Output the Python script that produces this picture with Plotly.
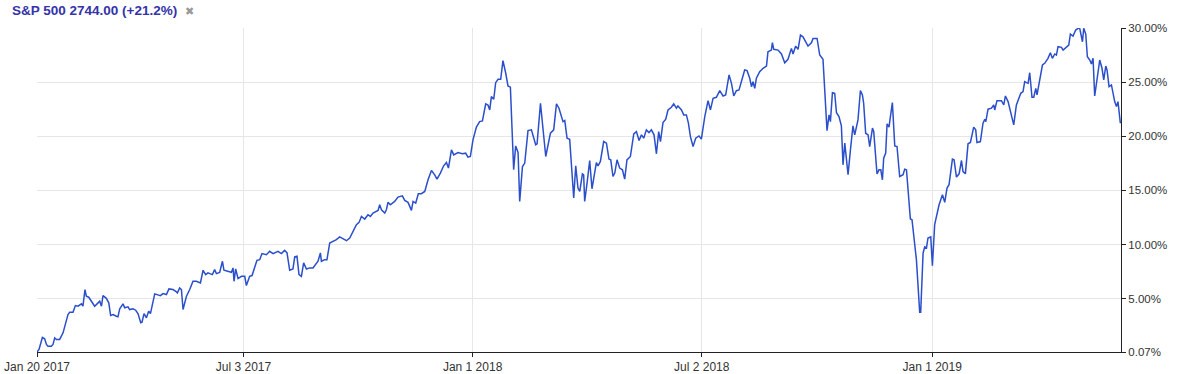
import pandas as pd
import plotly.graph_objects as go

# Days elapsed since 2017-01-20 and % change of the S&P 500
day_offsets = [
    0, 1.6, 4.3, 6.1, 7.5, 8.7, 11.4, 12.7, 14.1, 15.4, 18.0, 20.7, 24.6, 26.0, 28.6, 30.5, 32.6, 35.3, 36.5, 38.1,
    39.2, 41.1, 43.2, 45.8, 48.5, 49.8, 51.2, 52.4, 55.1, 57.0, 58.5, 60.4, 63.1, 64.3, 65.7, 68.3, 69.7, 72.3, 73.6, 76.3,
    78.4, 80.2, 82.4, 83.4, 85.0, 86.9, 88.7, 90.1, 93.5, 96.1, 98.0, 100.1, 102.8, 104.8, 108.0, 110.2, 111.5, 113.3, 114.7, 116.0,
    118.7, 121.3, 123.9, 126.6, 129.8, 131.9, 134.0, 135.8, 139.3, 141.1, 142.5, 145.1, 147.3, 148.5, 151.7, 154.4, 155.7, 156.5, 157.8, 159.7,
    162.4, 165.0, 166.3, 168.9, 170.8, 172.9, 174.7, 176.9, 178.7, 182.2, 184.8, 187.5, 191.4, 194.1, 196.7, 198.6, 200.7, 203.3, 204.7, 206.5,
    208.1, 210.0, 211.8, 214.0, 216.6, 219.2, 223.2, 225.1, 225.9, 228.5, 230.3, 232.5, 235.1, 237.8, 240.4, 243.1, 245.8, 248.4, 251.0, 253.7,
    255.8, 257.7, 260.3, 262.9, 264.8, 266.9, 270.9, 272.2, 273.6, 276.2, 277.5, 278.8, 280.7, 284.1, 286.7, 290.2, 292.1, 294.7, 297.4, 298.7,
    300.8, 302.9, 305.3, 308.0, 310.6, 313.3, 315.9, 317.7, 320.4, 323.0, 325.2, 326.8, 329.2, 331.0, 334.4, 337.9, 340.5, 342.3, 344.2, 346.3,
    349.0, 351.6, 353.8, 356.4, 358.2, 359.6, 360.9, 362.8, 364.3, 366.2, 368.3, 370.1, 372.3, 374.1, 376.0, 378.6, 380.2, 382.1, 383.4, 385.6,
    387.4, 390.0, 392.7, 396.1, 397.2, 399.9, 404.1, 405.9, 407.8, 410.4, 412.6, 414.6, 417.8, 419.2, 421.0, 423.1, 426.3, 427.9, 429.7, 431.1,
    433.2, 434.2, 435.0, 436.9, 439.0, 440.8, 443.0, 444.3, 445.6, 447.5, 450.1, 452.3, 454.3, 455.7, 457.5, 458.9, 460.7, 462.8, 465.0, 466.8,
    468.6, 471.3, 474.0, 476.1, 478.2, 480.1, 481.9, 484.0, 486.1, 488.0, 490.1, 492.0, 493.8, 495.2, 497.2, 499.4, 501.2, 503.9, 505.7, 507.9,
    509.1, 511.9, 513.7, 515.8, 517.4, 519.0, 521.1, 523.2, 525.8, 527.7, 530.4, 533.0, 534.9, 537.0, 539.6, 542.3, 544.9, 547.0, 549.7, 551.6,
    553.4, 555.5, 557.6, 559.5, 562.1, 564.0, 566.1, 567.5, 568.7, 570.1, 571.4, 574.0, 576.7, 579.4, 580.6, 583.3, 584.1, 585.2, 588.6, 591.3,
    593.9, 596.5, 599.2, 600.5, 602.6, 604.5, 606.4, 608.4, 610.6, 612.4, 615.1, 616.4, 619.6, 621.7, 624.3, 627.5, 629.1, 630.2, 631.8, 633.6,
    635.0, 637.0, 638.9, 640.2, 641.6, 644.2, 646.1, 648.1, 649.5, 652.1, 654.0, 655.6, 656.6, 658.2, 660.1, 661.4, 663.6, 664.6, 667.2, 668.8,
    670.2, 671.5, 672.5, 674.1, 675.2, 676.7, 679.4, 681.3, 683.1, 685.2, 687.9, 689.2, 690.6, 693.7, 695.0, 698.5, 701.1, 701.9, 703.8, 705.1,
    706.5, 707.7, 709.9, 711.2, 713.0, 714.9, 716.5, 719.2, 721.0, 722.8, 724.4, 727.1, 728.4, 730.3, 732.4, 734.3, 735.5, 737.4, 739.5, 741.4,
    744.0, 745.6, 746.6, 749.3, 751.4, 752.8, 753.6, 755.4, 758.1, 759.9, 760.7, 762.5, 766.0, 767.9, 769.2, 771.3, 774.0, 775.8, 777.9, 780.0,
    781.4, 783.2, 784.5, 785.9, 787.2, 788.5, 790.3, 791.7, 793.3, 794.3, 796.4, 798.6, 800.4, 803.0, 804.9, 806.5, 808.4, 809.7, 811.0, 813.7,
    815.0, 817.7, 819.5, 820.8, 822.9, 825.0, 826.9, 828.2, 830.4, 831.4, 833.0, 834.3, 836.2, 837.5, 838.8, 840.1, 841.5, 844.1, 845.9, 847.3,
    848.9, 849.9, 851.5, 853.4, 856.0, 857.4, 858.6, 860.5,
]
pct_change = [
    0.07, 0.30, 1.41, 1.29, 0.77, 0.61, 0.61, 0.77, 1.38, 1.23, 1.23, 1.84, 3.53, 3.74, 3.74, 4.36, 4.30, 4.52, 4.30, 5.84,
    5.22, 5.13, 4.76, 4.30, 4.61, 4.76, 4.30, 5.28, 5.03, 4.61, 3.44, 3.53, 3.37, 3.32, 4.06, 4.52, 4.15, 4.24, 3.99, 4.06,
    3.93, 3.62, 2.77, 2.82, 3.62, 3.23, 3.84, 3.62, 5.44, 5.38, 5.28, 5.47, 5.38, 5.90, 5.84, 5.68, 5.53, 5.99, 5.84, 3.99,
    5.22, 5.84, 6.60, 6.60, 6.45, 7.62, 7.22, 7.38, 7.22, 7.68, 7.31, 7.43, 8.45, 7.62, 7.52, 7.43, 7.84, 6.60, 7.74, 6.85,
    7.06, 7.06, 6.21, 7.06, 7.13, 7.84, 8.54, 8.60, 9.16, 9.06, 9.37, 9.16, 9.37, 9.16, 9.46, 9.22, 7.62, 7.74, 8.85, 8.91,
    7.22, 7.06, 8.30, 7.74, 7.84, 7.84, 8.45, 9.22, 8.45, 8.60, 8.60, 10.14, 10.29, 10.45, 10.70, 10.51, 10.35, 10.60, 11.21, 11.83,
    12.04, 12.59, 12.35, 12.75, 12.59, 12.91, 13.15, 13.67, 13.21, 12.91, 13.21, 13.89, 13.67, 13.98, 14.38, 14.50, 14.07, 13.89, 13.15, 13.98,
    13.83, 14.69, 14.69, 14.90, 15.98, 16.84, 16.44, 16.04, 16.60, 17.27, 17.57, 17.06, 18.74, 18.28, 18.50, 18.38, 18.44, 18.07, 18.13, 19.67,
    20.84, 21.35, 21.42, 22.99, 22.89, 22.43, 23.66, 23.42, 24.95, 25.26, 25.26, 26.98, 25.82, 24.65, 24.53, 16.90, 19.11, 18.50, 13.98, 17.20,
    17.52, 20.52, 20.59, 19.21, 19.30, 23.05, 18.13, 19.36, 20.28, 20.59, 22.99, 22.59, 21.35, 21.45, 19.82, 19.73, 14.29, 17.27, 15.21, 14.90,
    16.53, 16.44, 13.98, 15.67, 17.76, 15.15, 16.90, 17.57, 17.27, 17.67, 19.51, 19.36, 17.89, 17.82, 16.28, 16.60, 17.82, 17.06, 16.90, 16.04,
    17.82, 18.13, 20.22, 20.43, 19.60, 20.13, 19.82, 20.59, 20.34, 20.59, 20.13, 18.38, 20.43, 19.51, 21.26, 21.57, 22.43, 22.68, 22.99, 22.59,
    22.80, 22.43, 21.97, 21.97, 21.21, 19.97, 19.05, 19.82, 20.03, 19.73, 21.81, 23.29, 22.43, 23.51, 23.60, 24.21, 23.72, 23.82, 25.66, 24.89,
    23.72, 24.21, 24.28, 25.04, 26.12, 26.06, 25.36, 24.58, 25.04, 24.43, 25.36, 25.96, 26.28, 26.49, 27.81, 27.96, 28.64, 28.03, 27.96, 27.60,
    26.79, 27.11, 28.12, 27.60, 28.33, 28.03, 29.35, 29.19, 28.73, 28.33, 28.64, 29.04, 29.04, 27.50, 27.11, 20.52, 21.97, 21.35, 24.03, 23.97,
    22.18, 21.81, 20.96, 17.36, 19.36, 16.44, 18.74, 20.96, 20.13, 21.51, 24.21, 23.82, 23.05, 20.28, 20.13, 19.05, 20.75, 20.43, 16.53, 16.90,
    16.90, 15.98, 17.98, 18.44, 21.14, 20.84, 23.11, 19.11, 19.05, 16.28, 16.44, 16.96, 16.90, 12.35, 12.29, 8.60, 3.74, 3.74, 9.22, 9.77,
    9.68, 10.60, 10.70, 8.05, 11.83, 12.75, 13.67, 14.60, 13.89, 15.21, 15.52, 17.89, 17.82, 16.23, 16.53, 17.76, 16.74, 16.53, 19.30, 19.42,
    20.84, 20.59, 19.42, 19.51, 21.21, 21.57, 21.35, 22.50, 22.59, 22.89, 22.43, 23.29, 23.29, 22.89, 23.72, 23.20, 21.97, 21.05, 22.89, 23.51,
    23.97, 24.12, 25.04, 24.95, 24.89, 25.87, 23.60, 23.60, 24.43, 23.82, 25.04, 26.58, 26.74, 27.20, 27.72, 27.20, 27.60, 27.50, 28.27, 28.21,
    27.96, 28.21, 28.43, 29.44, 29.26, 29.81, 29.97, 29.97, 28.73, 29.98, 29.44, 27.35, 27.04, 26.67, 27.20, 23.72, 24.89, 27.04, 26.28, 25.20,
    26.49, 26.12, 24.58, 24.74, 23.20, 22.74, 23.20, 21.20,
]

start_date = "2017-01-20"
end_date = "2019-05-31"
x_tick_dates = ["2017-01-20", "2017-07-03", "2018-01-01", "2018-07-02", "2019-01-01"]
x_tick_labels = ["Jan 20 2017", "Jul 3 2017", "Jan 1 2018", "Jul 2 2018", "Jan 1 2019"]
y_tick_values = [0.07, 5, 10, 15, 20, 25, 30]
y_tick_labels = ["0.07%", "5.00%", "10.00%", "15.00%", "20.00%", "25.00%", "30.00%"]
title_text = "S&P 500 2744.00 (+21.2%)"

dates = pd.Timestamp(start_date) + pd.to_timedelta(day_offsets, unit="D")

W, H = 1178, 374
ML, MR, MT, MB = 37, 57, 28, 22
PW, PH = W - ML - MR, H - MT - MB

fig = go.Figure()
fig.add_trace(go.Scatter(
    x=dates, y=pct_change, mode="lines",
    line=dict(color="#2b4fcb", width=1.5),
    hoverinfo="skip", showlegend=False,
))

fig.update_layout(
    width=W, height=H,
    margin=dict(l=ML, r=MR, t=MT, b=MB),
    paper_bgcolor="white", plot_bgcolor="white",
    font=dict(family="Arial, Liberation Sans, sans-serif", size=12, color="#333333"),
    showlegend=False,
)
fig.update_xaxes(
    type="date", range=[start_date, end_date],
    tickmode="array", tickvals=x_tick_dates, ticktext=x_tick_labels,
    showgrid=True, gridcolor="#e6e6e6", gridwidth=1,
    showline=True, linecolor="#222222", linewidth=1,
    ticks="outside", ticklen=4, tickcolor="#222222",
    tickfont=dict(size=12, color="#333333"),
    zeroline=False, automargin=False, fixedrange=True,
)
fig.update_yaxes(
    range=[0.07, 30], side="right",
    tickmode="array", tickvals=y_tick_values, ticktext=y_tick_labels,
    showgrid=True, gridcolor="#e6e6e6", gridwidth=1,
    showline=True, linecolor="#222222", linewidth=1,
    ticks="outside", ticklen=4, tickcolor="#222222",
    tickfont=dict(size=11.5, color="#333333"),
    zeroline=False, automargin=False, fixedrange=True,
)

title_y = 1 + (MT - 11) / PH
fig.add_annotation(
    x=(10 - ML) / PW, y=title_y, xref="paper", yref="paper", showarrow=False,
    text="<b>" + title_text + "</b>", xanchor="left", yanchor="middle",
    font=dict(size=13.5, color="#3333aa"),
)
fig.add_annotation(
    x=(183 - ML) / PW, y=title_y,
    xref="paper", yref="paper", showarrow=False,
    text="✖", xanchor="left", yanchor="middle",
    font=dict(size=11, color="#999999"),
)

fig.write_html("out.html")
